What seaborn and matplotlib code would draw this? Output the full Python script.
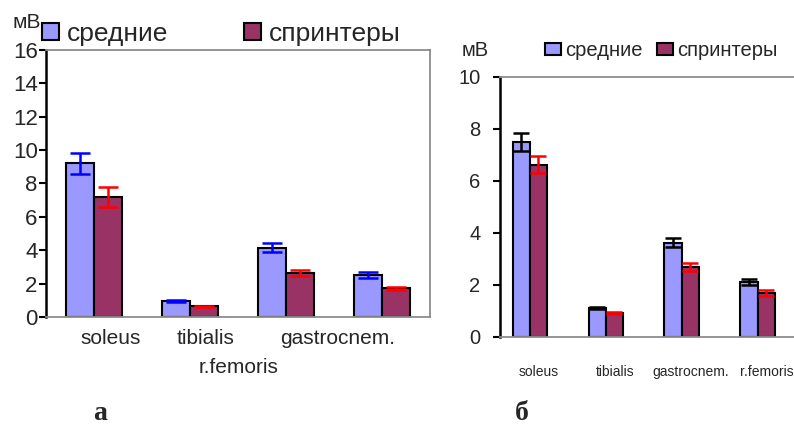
import numpy as np
import pandas as pd
import matplotlib
matplotlib.use("Agg")
import matplotlib.pyplot as plt
import seaborn as sns

# ---- data ----
muscles = ["soleus", "tibialis", "gastrocnem.", "r.femoris"]
groups = ["средние", "спринтеры"]

a_mid = [9.2, 0.95, 4.15, 2.52]
a_mid_err = [0.62, 0.08, 0.28, 0.18]
a_spr = [7.2, 0.63, 2.63, 1.72]
a_spr_err = [0.6, 0.05, 0.2, 0.1]

b_mid = [7.5, 1.1, 3.62, 2.1]
b_mid_err = [0.36, 0.05, 0.17, 0.1]
b_spr = [6.62, 0.92, 2.69, 1.68]
b_spr_err = [0.32, 0.04, 0.15, 0.12]

a_yticks = [0, 2, 4, 6, 8, 10, 12, 14, 16]
b_yticks = [0, 2, 4, 6, 8, 10]

unit = "мВ"
panel_a = "а"
panel_b = "б"

# styles
C_MID = "#9999FF"
C_SPR = "#993366"
GRAY = "#8c8c8c"

sns.set_style("white")
plt.rcParams["font.family"] = ["Liberation Sans", "DejaVu Sans"]

fig = plt.figure(figsize=(7.94, 4.24), dpi=100)

def make_df(mid, spr):
    return pd.DataFrame({
        "muscle": muscles * 2,
        "group": [groups[0]] * 4 + [groups[1]] * 4,
        "value": list(mid) + list(spr),
    })

def draw(ax, mid, spr, mid_err, spr_err, width, err_colors, capsize, lw):
    df = make_df(mid, spr)
    sns.barplot(data=df, x="muscle", y="value", hue="group", order=muscles,
                hue_order=groups, palette=[C_MID, C_SPR], width=width,
                errorbar=None, edgecolor="black", linewidth=1.5, ax=ax,
                saturation=1, gap=0)
    x = np.arange(len(muscles))
    ax.errorbar(x - width / 4, mid, yerr=mid_err, fmt="none",
                ecolor=err_colors[0], elinewidth=lw, capsize=capsize,
                capthick=lw, zorder=5)
    ax.errorbar(x + width / 4, spr, yerr=spr_err, fmt="none",
                ecolor=err_colors[1], elinewidth=lw, capsize=capsize,
                capthick=lw, zorder=5)
    ax.set_xlabel("")
    ax.set_ylabel("")
    ax.set_xticks([])

# ---- panel a ----
axA = fig.add_axes([46 / 794, 1 - 317 / 424, (430 - 46) / 794, (317 - 50) / 424])
draw(axA, a_mid, a_spr, a_mid_err, a_spr_err, 0.59, ["#0000FF", "#FF0000"], 7, 1.8)
axA.set_xlim(-0.5, 3.5)
axA.set_ylim(0, 16)
axA.set_yticks(a_yticks)
axA.tick_params(axis="y", direction="out", length=5, width=1.5, pad=1,
                labelsize=16, left=True, color="black")
for s in ["top", "right", "bottom"]:
    axA.spines[s].set_color(GRAY)
    axA.spines[s].set_linewidth(1.3)
axA.spines["left"].set_color("black")
axA.spines["left"].set_linewidth(1.8)
axA.legend(loc="lower left", bbox_to_anchor=(-0.01, 1.015), ncol=2,
           frameon=False, fontsize=19, handlelength=0.62, handleheight=0.62,
           handletextpad=0.3, columnspacing=2.9, borderaxespad=0, borderpad=0)
fig.text(12 / 794, 1 - 23 / 424, unit, fontsize=15, va="center", ha="left")

trA = axA.get_xaxis_transform()
a_lab_x = [0.175, 1.16, 2.54, 1.51]
a_lab_y = [-0.08, -0.08, -0.08, -0.19]
for name, lx, ly in zip(muscles, a_lab_x, a_lab_y):
    axA.text(lx, ly, name, transform=trA, ha="center", va="center", fontsize=15)

# ---- panel b ----
axB = fig.add_axes([500 / 794, 1 - 336.5 / 424, (794 - 500) / 794, (336.5 - 77) / 424])
draw(axB, b_mid, b_spr, b_mid_err, b_spr_err, 0.45, ["#000000", "#FF0000"], 5.5, 1.8)
axB.set_xlim(-0.39, 3.48)
axB.set_ylim(0, 10)
axB.set_yticks(b_yticks)
axB.tick_params(axis="y", direction="out", length=5, width=1.5, pad=9,
                labelsize=14.5, left=True, color="black")
for s in ["top", "bottom"]:
    axB.spines[s].set_color(GRAY)
    axB.spines[s].set_linewidth(1.3)
axB.spines["right"].set_visible(False)
axB.spines["left"].set_color("black")
axB.spines["left"].set_linewidth(1.8)
axB.legend(loc="lower left", bbox_to_anchor=(45 / 294, 1.065), ncol=2,
           frameon=False, fontsize=14.5, handlelength=0.8, handleheight=0.6,
           handletextpad=0.2, columnspacing=0.7, borderaxespad=0, borderpad=0)
fig.text(462 / 794, 1 - 51 / 424, unit, fontsize=14.5, va="center", ha="left")

trB = axB.get_xaxis_transform()
for i, name in enumerate(muscles):
    axB.text(i + 0.12, -0.137, name, transform=trB, ha="center", va="center",
             fontsize=10)

# panel letters
fig.text(100 / 794, 1 - 413 / 424, panel_a, fontsize=20, fontweight="bold",
         family=["Liberation Serif", "DejaVu Serif"], ha="center", va="center")
fig.text(522 / 794, 1 - 413 / 424, panel_b, fontsize=20, fontweight="bold",
         family=["Liberation Serif", "DejaVu Serif"], ha="center", va="center")

fig.savefig("out.png", dpi=100)
